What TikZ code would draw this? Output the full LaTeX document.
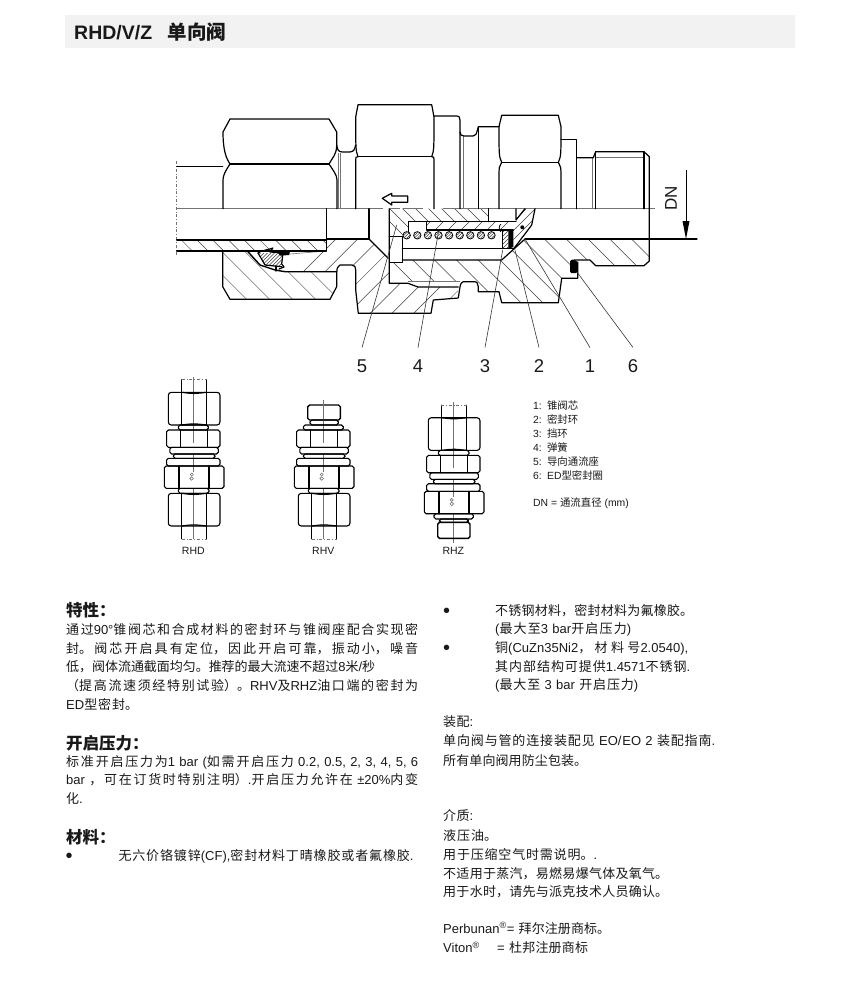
\documentclass[tikz,border=0pt]{standalone}
\usepackage{fontspec}
\setmainfont{Liberation Sans}
\newfontfamily\cjk{Noto Sans CJK SC}
\newcommand{\zh}[1]{{\cjk #1}}
\XeTeXlinebreaklocale "zh"
\XeTeXlinebreakskip=0pt plus 6pt minus .6pt
\tolerance=10000
\hbadness=10000
\hfuzz=20pt
\definecolor{inkgrey}{gray}{.1}
\definecolor{bandgrey}{gray}{.95}
\tikzset{
  outl/.style={line width=1.2pt,line join=round,line cap=round},
  thinl/.style={line width=.6pt,black!55},
  hatchl/.style={line width=.5pt,black!75},
  leader/.style={line width=.6pt,black!80},
  part/.style={draw,line width=1.1pt,rounded corners=1.8pt},
  callout/.style={font=\fontsize{18.5}{20}\selectfont,inner sep=0pt,outer sep=12pt,text=inkgrey},
  txt/.style={anchor=west,inner sep=0pt,text=inkgrey,font=\fontsize{13}{15}\selectfont,text height=11.5pt,text depth=1.5pt},
  jline/.style={txt,text width=#1pt,execute at begin node={\rightskip=0pt\leftskip=0pt\parfillskip=0pt\relax}},
  head/.style={txt,font=\fontsize{16.5}{18}\selectfont\bfseries},
  dot/.style={anchor=west,inner sep=0pt,text=inkgrey,font=\fontsize{20}{22}\selectfont,text height=14pt,text depth=0pt},
  small/.style={txt,font=\fontsize{10.4}{12}\selectfont,text height=8.5pt,text depth=1pt},
  viewname/.style={inner sep=0pt,text=inkgrey,font=\fontsize{10.5}{12}\selectfont}
}
% shared stack of the three small views
\newcommand{\bodystack}[2]{
\begin{scope}[shift={(#1,#2)}]
\draw[part] (-26.7,430) rectangle (26.7,447.3);
\draw[part] (-23.5,447.3) rectangle (25,454);
\draw[part] (-20,454) rectangle (21.7,458.3);
\draw[part] (-26.7,458.3) rectangle (26.7,466);
\draw[part] (-29,466) rectangle (30.7,488.3);
\draw[outl] (-12.6,430) -- (-12.6,447.3);
\draw[outl] (14,430) -- (14,447.3);
\draw[outl] (-14.3,466) -- (-14.3,488.3);
\draw[outl] (15.7,466) -- (15.7,488.3);
\draw[thinl] (-1.6,474.5) circle (1.5);
\draw[thinl] (-1.6,478.5) circle (1.8);
\end{scope}
}
\newcommand{\nutview}[2]{
\begin{scope}[shift={(#1,#2)}]
\draw[part,rounded corners=3pt] (-25,0) rectangle (26.7,32.7);
\draw[outl] (-11.6,0) -- (-11.6,32.7);
\draw[outl] (13.4,0) -- (13.4,32.7);
\draw[outl] (-11.6,0) .. controls (0,1.5) .. (13.4,0);
\draw[outl] (-11.6,32.7) .. controls (0,31.2) .. (13.4,32.7);
\end{scope}
}
\begin{document}
\begin{tikzpicture}[x=1pt,y=-1pt]
\useasboundingbox (0,0) rectangle (860,986);
\fill[bandgrey] (65,15) rectangle (795,48);
\node[txt,font=\fontsize{19.5}{22}\selectfont\bfseries,text height=14pt,text depth=2pt] (title) at (74,33) {RHD/V/Z\hspace{.8em}\zh{单向阀}};

% hatching of the section
\begin{scope}
\clip (176.7,240) rectangle (326.7,251);
\foreach \c in {-90,-74.3,...,110} \draw[hatchl] (\c+230,230) -- (\c+260,260);
\end{scope}
\begin{scope}
\clip (222.7,251) -- (247.3,251) -- (260,265) -- (275,270) -- (285,271.7) -- (336.7,271.7) -- (336.7,286.7) -- (330,299.3) -- (230,299.3) -- (222.7,286.7) -- cycle;
\foreach \c in {-52.6,-29.6,...,60} \draw[hatchl] (\c+240,240) -- (\c+310,310);
\end{scope}
\begin{scope}
\clip (326.7,251) -- (326.7,239) -- (369,239) -- (388.3,258.3) -- (389.3,283) -- (408,283.3) -- (418,287) -- (458.3,287) -- (458,298) -- (433.3,300) -- (430,313.3) -- (358.3,313.3) -- (355.7,290) -- (355.7,270) -- (352,265) -- (340,265) -- (336.7,271.7) -- (285,271.7) -- (290,255) -- cycle;
\foreach \c in {575,596.7,...,760} \draw[hatchl] (\c-230,230) -- (\c-320,320);
\end{scope}
\begin{scope}
\clip (389.3,208.7) -- (488.3,208.7) -- (488.3,221.7) -- (408.3,221.7) -- (408.3,236.7) -- (389.3,236.7) -- cycle;
\foreach \c in {168,181,...,290} \draw[hatchl] (\c+200,200) -- (\c+240,240);
\end{scope}
\begin{scope}
\clip (426.7,221.7) rectangle (513,230);
\foreach \c in {652,665,...,750} \draw[hatchl] (\c-220,220) -- (\c-232,232);
\end{scope}
\begin{scope}
\clip (516,221) -- (525,208.7) -- (535,208.7) -- (531.7,225) -- (513.3,249.3) -- (513.3,230) -- cycle;
\foreach \c in {735,744,...,790} \draw[hatchl] (\c-205,205) -- (\c-255,255);
\end{scope}
\begin{scope}
\clip (402.3,260) -- (501.7,260) -- (513.3,250) -- (525,239) -- (649.3,239) -- (649.3,261) -- (644,265.7) -- (595.7,265.7) -- (590,260) -- (577.7,260) -- (577.7,278.3) -- (561.7,278.3) -- (558.3,302.7) -- (501.7,302.7) -- (499,291.7) -- (478.3,291.7) -- (478.3,286.7) -- (475,281.7) -- (463.3,281.7) -- (460,286.7) -- (460,281.7) -- (390,281.7) -- (390,262.3) -- (402.3,262.3) -- cycle;
\foreach \c in {131,152.8,...,420} \draw[hatchl] (\c+235,235) -- (\c+305,305);
\end{scope}
\begin{scope}
\clip (258,253) -- (283,253) -- (281.7,266.7) -- (265,265) -- cycle;
\foreach \c in {510,513.5,...,550} \draw[hatchl] (\c-250,250) -- (\c-270,270);
\end{scope}
\begin{scope}
\clip (502.7,231.7) rectangle (508.3,248.3);
\foreach \c in {735,739,...,760} \draw[hatchl] (\c-230,230) -- (\c-250,250);
\end{scope}

% seals
\fill[black] (508.3,231) -- (513.3,231) -- (513.3,247) -- (508.3,249) -- cycle;
\fill[black] (276.7,251) -- (290,251) -- (289.3,255) -- (280,255.7) -- cycle;
\fill[black,rounded corners=1.5pt] (570,260) -- (574,259.5) -- (577.7,262) -- (577.7,273) -- (570,273) -- cycle;
\fill[black] (522.3,227.3) circle (2);

% centre line, break line, thin lines
\draw[thinl,line width=.9pt] (176.7,208.7) -- (383,208.7);
\draw[thinl,line width=.9pt] (390,208.7) -- (400,208.7);
\draw[thinl,line width=.9pt] (403,208.7) -- (423,208.7);
\draw[thinl,line width=.9pt] (443,208.7) -- (655,208.7);
\draw[thinl,dash dot,line width=.7pt] (176.7,161) -- (176.7,255.7);
\draw[thinl] (338.5,153) -- (338.5,208.7);
\draw[thinl] (340,153) -- (340,208.7);
\draw[thinl] (463.3,136) -- (463.3,208.7);
\draw[thinl] (592.3,157.7) -- (592.3,208.7);
\draw[thinl] (595.7,157.7) -- (644,157.7);
\draw[thinl] (290,254) -- (326.7,251);
\draw[thinl] (408.3,281.7) -- (460,281.7);

% upper half
\draw[outl] (176.7,166.7) -- (222.7,166.7);
\draw[outl] (223,208.7) -- (223,180) .. controls (223,175) and (226,170) .. (230,164) .. controls (226,158) and (223,150) .. (223,132) -- (230,119) -- (329,119) -- (336.7,132) -- (336.7,145) .. controls (336.7,155) and (332,158) .. (329,164) .. controls (333,170) and (337,175) .. (337,180) -- (337,208.7);
\draw[outl] (230,164) -- (329,164);
\draw[outl] (336.7,145) .. controls (338,151) .. (342,152) -- (350,152) .. controls (354,151) .. (355.7,145);
\draw[outl] (355.7,208.7) -- (355.7,160) .. controls (355.7,157) .. (358,156.7) .. controls (355.7,150) .. (355.7,117) -- (358,104.7) -- (431.7,104.7) -- (434,117) .. controls (434,150) .. (431.7,156.7) .. controls (434,157) .. (434,160) -- (434,208.7);
\draw[outl] (358,156.7) -- (431.7,156.7);
\draw[outl] (433.5,116) -- (456.7,116) .. controls (459,116) .. (460,120) -- (460,208.7);
\draw[outl] (460,132) .. controls (461,135.5) .. (464,136) -- (473,136) .. controls (476,135.5) .. (478.3,126.7) -- (499,126.7);
\draw[outl] (478.3,126.7) -- (478.3,208.7);
\draw[outl] (499,208.7) -- (499,172) .. controls (499,168) .. (501.7,162.3) .. controls (499,156) .. (499,126.7) -- (501.7,115.3) -- (558.3,115.3) -- (561,126.7) .. controls (561,156) .. (558.3,162.3) .. controls (561,168) .. (561,172) -- (561,208.7);
\draw[outl] (501.7,162.3) -- (558.3,162.3);
\draw[outl] (561,139.3) -- (576.7,139.3) -- (576.7,208.7);
\draw[outl] (576.7,157.7) -- (593.3,157.7) -- (595.7,151.7) -- (644,151.7) -- (649.3,156.7) -- (649.3,253.3) -- (649.3,261) -- (644,265.7) -- (595.7,265.7) -- (590,260) -- (574,260);
\draw[outl] (595.7,151.7) -- (595.7,208.7);
\draw[outl] (644,151.7) -- (644,208.7);

% tube and left nut
\draw[outl] (176.7,240) -- (326.7,240);
\draw[outl] (176.7,251) -- (326.7,251) -- (326.7,208.7);
\draw[outl] (326.7,239) -- (369,239) -- (369,208.7);
\draw[outl] (222.7,251) -- (222.7,286.7) -- (230,299.3) -- (330,299.3) -- (336.7,286.7) -- (336.7,271.7) .. controls (337,268) .. (340,265) -- (352,265) .. controls (355,266) .. (355.7,270) -- (355.7,290) -- (358.3,313.3) -- (431,313.3) -- (433.3,300) -- (458.3,298) -- (460,286.7) .. controls (461,283) .. (463.3,281.7) -- (475,281.7) .. controls (477,282) .. (478.3,286.7) -- (478.3,291.7) -- (499,291.7) -- (501.7,302.7) -- (558.3,302.7) -- (561.7,278.3) -- (577.7,278.3) -- (577.7,262);
\draw[outl,line width=1.4pt] (222.7,251) -- (247.3,251) -- (260,265) -- (275,270) -- (285,271.7) -- (336.7,271.7);
\draw[outl] (258,253) .. controls (262,250) and (268,250) .. (273,248) -- (270,252) -- (283,253) -- (281.7,264) -- (284,267) -- (279,269);
\draw[outl] (258,253) -- (265,265) -- (281.7,266.7);
\draw[outl] (276,266) -- (276,271);

% spring chamber and valve
\draw[outl] (369,239) -- (388.3,258.3);
\draw[outl] (389.3,208.7) -- (389.3,283.3) -- (408,283.3) -- (418,287) -- (458.3,287);
\draw[outl] (389.3,236.7) -- (402.3,236.7) -- (402.3,262.3) -- (390,262.3);
\draw[outl] (402.3,248.3) -- (502,248.3);
\draw[outl] (402.3,260) -- (501.7,260) -- (525,239);
\draw[outl] (408.3,236) -- (408.3,221.7) -- (516,221.7);
\draw[outl] (426.7,221.7) -- (426.7,230) -- (513.3,230);
\draw[outl] (488.3,208.7) -- (488.3,221.7);
\draw[outl] (516,208.7) -- (516,220) -- (525,208.7);
\draw[outl] (535,208.7) -- (531.7,225) -- (513.3,249.3);
\draw[outl] (502.7,231) -- (502.7,248.3) -- (513.3,248.3);
\foreach \x in {406.7,417.3,...,500} {
  \draw[line width=.8pt,fill=white] (\x,235.3) circle (3.7);
  \draw[hatchl] (\x-2.4,237.6) -- (\x+2.4,233);
  \draw[hatchl] (\x-3,235.6) -- (\x+.4,232.2);
  \draw[hatchl] (\x-.4,238.6) -- (\x+3,235.2);
}
\draw[line width=.8pt] (501,231.7) arc (90:270:1.8 and 3.7);

% bore line with flow arrow and DN dimension
\draw[outl,line width=1.3pt] (525,239) -- (697,239);
\draw[outl] (382.3,198.3) -- (391.7,193.3) -- (391.7,196) -- (407.7,196) -- (407.7,202.3) -- (391.7,202.3) -- (391.7,205) -- cycle;
\coordinate (dntop) at (686,170);
\coordinate (dnend) at (686,239);
\draw[line width=.7pt] (dntop) -- (686,222);
\fill[black] (dnend) -- (682.5,221) -- (689.5,221) -- cycle;
\node[inner sep=0pt,rotate=90,text=inkgrey,font=\fontsize{17}{19}\selectfont] (dn) at (671,198) {DN};

% callouts
\node[callout] (lab5) at (362,366) {5};
\node[callout] (lab4) at (418,366) {4};
\node[callout] (lab3) at (485,366) {3};
\node[callout] (lab2) at (539,366) {2};
\node[callout] (lab1) at (590,366) {1};
\node[callout] (lab6) at (633,366) {6};
\coordinate (p5) at (396.7,225);
\coordinate (p4) at (438.3,233);
\coordinate (p3) at (502.7,250);
\coordinate (p2) at (515,250);
\coordinate (p1) at (525,239);
\coordinate (p6) at (576.7,271.7);
\draw[leader] (lab5.north) -- (p5);
\draw[leader] (lab4.north) -- (p4);
\draw[leader] (lab3.north) -- (p3);
\draw[leader] (lab2.north) -- (p2);
\draw[leader] (lab1.north) -- (p1);
\draw[leader] (lab6.north) -- (p6);

% small views
\draw[thinl,line width=.8pt] (193.3,376.7) -- (193.3,443);
\draw[thinl,line width=.8pt] (193.3,454) -- (193.3,472);
\draw[thinl,line width=.8pt] (193.3,488) -- (193.3,539);
\draw[outl,line width=.9pt] (181.7,392.3) -- (181.7,379.7);
\draw[outl,line width=.9pt] (206.7,392.3) -- (206.7,379.7);
\draw[thinl,dash dot] (181.7,379.7) -- (206.7,379.7);
\nutview{193.3}{392.3}
\draw[part] (178.3,425) rectangle (208.3,430);
\bodystack{193.3}{0}
\draw[part] (178.3,488.3) rectangle (209,493.3);
\nutview{193.3}{493.3}
\draw[outl,line width=.9pt] (181.7,526) -- (181.7,539);
\draw[outl,line width=.9pt] (206.7,526) -- (206.7,539);
\draw[thinl,dash dot] (181.7,539) -- (206.7,539);
\node[viewname] (rhd) at (193.3,551) {RHD};

\draw[part,line width=1.4pt] (307.7,405) rectangle (340.3,420);
\draw[thinl,line width=.8pt] (323.3,400) -- (323.3,443);
\draw[thinl,line width=.8pt] (323.3,454) -- (323.3,472);
\draw[thinl,line width=.8pt] (323.3,488) -- (323.3,539);
\draw[part] (310,420) rectangle (338.3,425);
\draw[part] (303.3,425) rectangle (343.3,430);
\bodystack{323.3}{0}
\draw[part] (308.3,488.3) rectangle (339,493.3);
\nutview{323.3}{493.3}
\draw[outl,line width=.9pt] (311.7,526) -- (311.7,539);
\draw[outl,line width=.9pt] (336.7,526) -- (336.7,539);
\draw[thinl,dash dot] (311.7,539) -- (336.7,539);
\node[viewname] (rhv) at (323.3,551) {RHV};

\draw[thinl,line width=.8pt] (453.3,402) -- (453.3,468);
\draw[thinl,line width=.8pt] (453.3,480) -- (453.3,497);
\draw[thinl,line width=.8pt] (453.3,513) -- (453.3,543);
\draw[outl,line width=.9pt] (441,417.7) -- (441,405);
\draw[outl,line width=.9pt] (466.7,417.7) -- (466.7,405);
\draw[thinl,dash dot] (441,405) -- (466.7,405);
\nutview{453.3}{417.7}
\draw[part] (438.3,450.4) rectangle (469,455.4);
\bodystack{453.3}{25.4}
\draw[part] (434,513.7) rectangle (473.3,519);
\draw[part] (439.3,519) rectangle (468.3,522.3);
\draw[part,line width=1.4pt] (437.7,522.3) rectangle (470,538.3);
\node[viewname] (rhz) at (453.3,551) {RHZ};

% legend
\node[small] (leg1) at (533,406) {1:\hspace{.5em}\zh{锥阀芯}};
\node[small] (leg2) at (533,420) {2:\hspace{.5em}\zh{密封环}};
\node[small] (leg3) at (533,434) {3:\hspace{.5em}\zh{挡环}};
\node[small] (leg4) at (533,448) {4:\hspace{.5em}\zh{弹簧}};
\node[small] (leg5) at (533,462) {5:\hspace{.5em}\zh{导向通流座}};
\node[small] (leg6) at (533,476) {6:\hspace{.5em}ED\zh{型密封圈}};
\node[small] (legdn) at (533,503) {DN = \zh{通流直径} (mm)};

% left column
\node[head] (h1) at (66,611.7) {\zh{特性：}};
\node[jline=352] (l1) at (66,629.3) {\zh{通过}90°\zh{锥阀芯和合成材料的密封环与锥阀座配合实现密}};
\node[jline=352] (l2) at (66,648.3) {\zh{封。阀芯开启具有定位，因此开启可靠，振动小，噪音}};
\node[jline=309] (l3) at (66,666.7) {\zh{低，阀体流通截面均匀。推荐的最大流速不超过}8\zh{米}/\zh{秒}};
\node[jline=352] (l4) at (66,685.7) {\zh{（提高流速须经特别试验）。}RHV\zh{及}RHZ\zh{油口端的密封为}};
\node[jline=72] (l5) at (66,704.3) {ED\zh{型密封。}};
\node[head] (h2) at (66,744) {\zh{开启压力：}};
\node[jline=352] (l6) at (66,761) {\zh{标准开启压力为}1 bar (\zh{如需开启压力} 0.2, 0.5, 2, 3, 4, 5, 6};
\node[jline=352] (l7) at (66,779.3) {bar \zh{，可在订货时特别注明）}.\zh{开启压力允许在} ±20\%\zh{内变}};
\node[jline=17] (l8) at (66,798.3) {\zh{化}.};
\node[head] (h3) at (66,838) {\zh{材料：}};
\node[dot] (b1) at (65.5,855) {•};
\node[jline=295] (l9) at (118.3,855) {\zh{无六价铬镀锌}(CF),\zh{密封材料丁晴橡胶或者氟橡胶}.};

% right column
\node[dot] (b2) at (443,610.7) {•};
\node[jline=198] (r1) at (495,610.7) {\zh{不锈钢材料，密封材料为氟橡胶。}};
\node[jline=136] (r2) at (495,628.3) {(\zh{最大至}3 bar\zh{开启压力})};
\node[dot] (b3) at (443,647.3) {•};
\node[jline=193] (r3) at (495,647.3) {\zh{铜}(CuZn35Ni2\zh{，材料号}2.0540),};
\node[jline=195] (r4) at (495,666) {\zh{其内部结构可提供}1.4571\zh{不锈钢}.};
\node[jline=143] (r5) at (495,684.3) {(\zh{最大至} 3 bar \zh{开启压力})};
\node[jline=30] (r6) at (443,721) {\zh{装配}:};
\node[jline=272] (r7) at (443,740.7) {\zh{单向阀与管的连接装配见} EO/EO 2 \zh{装配指南}.};
\node[jline=144] (r8) at (443,760) {\zh{所有单向阀用防尘包装。}};
\node[jline=30] (r9) at (443,815.7) {\zh{介质}:};
\node[jline=54] (r10) at (443,835.7) {\zh{液压油。}};
\node[jline=154] (r11) at (443,854.3) {\zh{用于压缩空气时需说明。}.};
\node[jline=225] (r12) at (443,873.3) {\zh{不适用于蒸汽，易燃易爆气体及氧气。}};
\node[jline=225] (r13) at (443,891.7) {\zh{用于水时，请先与派克技术人员确认。}};
\node[jline=167] (r14) at (443,928.3) {Perbunan\textsuperscript{®}= \zh{拜尔注册商标。}};
\node[jline=145] (r15) at (443,947.7) {Viton\textsuperscript{®}\hspace{1em} = \zh{杜邦注册商标}};
\end{tikzpicture}
\end{document}
